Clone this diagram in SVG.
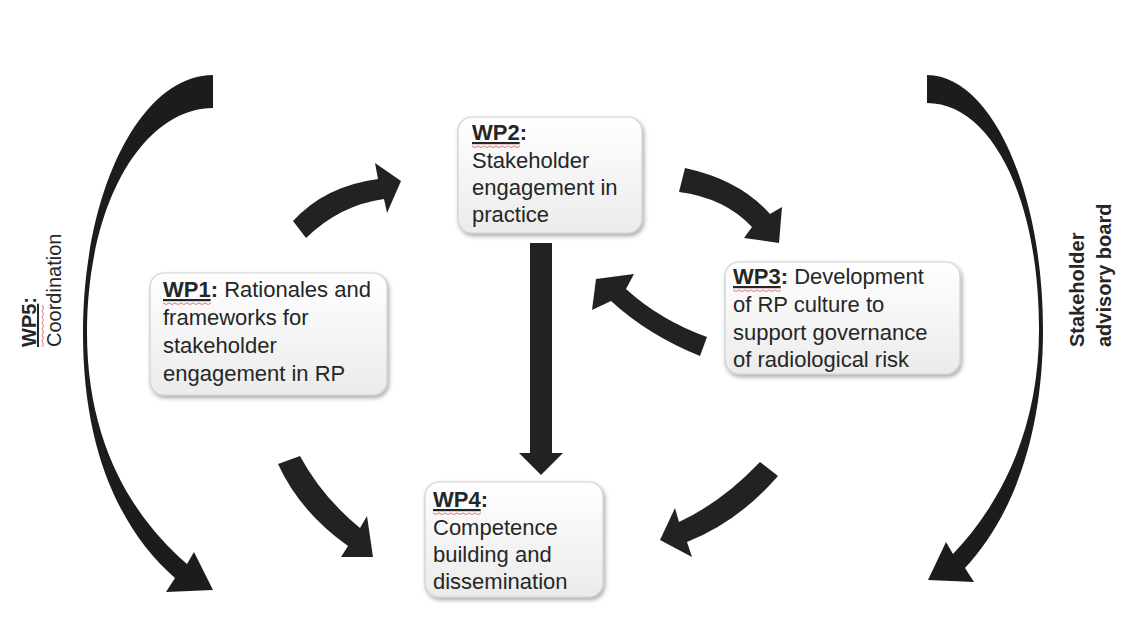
<svg xmlns="http://www.w3.org/2000/svg" width="1135" height="619" viewBox="0 0 1135 619">
<style>
  .t { font-family: "Liberation Sans", Arial, sans-serif; font-size: 22px; fill: #262626; }
  .side { font-family: "Liberation Sans", Arial, sans-serif; font-size: 20px; fill: #262626; }
  .b { font-weight: bold; }
  .u { text-decoration: underline; }
  .box { fill: url(#boxGrad); stroke: #cfcfcf; stroke-width: 1.2; filter: url(#shadow); }
  .arr { fill: #222222; }
  .arc { fill: #1c1c1c; }
  .sq { fill: none; stroke: #e05555; stroke-width: 1; opacity: 0.8; }
</style>
<defs>
  <linearGradient id="boxGrad" x1="0" y1="0" x2="0" y2="1">
    <stop offset="0" stop-color="#ffffff"/>
    <stop offset="1" stop-color="#ebebeb"/>
  </linearGradient>
  <filter id="shadow" x="-10%" y="-10%" width="125%" height="130%">
    <feDropShadow dx="1.5" dy="2.5" stdDeviation="2" flood-color="#000" flood-opacity="0.35"/>
  </filter>
</defs>
<rect width="1135" height="619" fill="#ffffff"/>

<g id="connectors">
  <!-- WP5 coordination arc (left) -->
  <path class="arc" d="M213,75 C141,75 83,190 83,333 C83,450 120,530 175,578 L166,592 L213,590 L194,552 L187,564 C130,515 87,440 87,333 C87,200 145,108 213,108 Z"/>
  <!-- Stakeholder advisory board arc (right) -->
  <path class="arc" d="M927,75 C991,75 1043,190 1043,330 C1043,440 1010,520 965,568 L974,582 L928,580 L946,542 L953,554 C1000,505 1039,430 1039,330 C1039,195 990,103 927,103 Z"/>
  <!-- WP1 -> WP2 -->
  <path class="arr" d="M293,221 Q325,186 378,179 L375,163 L401,181 L387,213 L384,199 Q340,205 306,238 Z"/>
  <!-- WP2 -> WP3 -->
  <path class="arr" d="M685,168 Q740,180 770,214 L782,207 L779,243 L744,238 L752,227 Q725,198 679,192 Z"/>
  <!-- WP3 -> WP2 -->
  <path class="arr" d="M707,337 Q660,320 626,289 L634,274 L596,279 L592,310 L611,301 Q648,335 700,356 Z"/>
  <!-- WP2 -> WP4 -->
  <path class="arr" d="M530,243 H552 V453 H563 L541,475 L519,453 H530 Z"/>
  <!-- WP1 -> WP4 -->
  <path class="arr" d="M300,456 Q322,497 360,528 L367,516 L373,557 L341,557 L348,546 Q300,512 278,464 Z"/>
  <!-- WP3 -> WP4 -->
  <path class="arr" d="M760,462 Q722,502 679,522 L675,508 L660,540 L692,557 L687,542 Q738,522 778,476 Z"/>
</g>

<g id="wp1">
  <rect class="box" x="150" y="273" width="237" height="122" rx="14"/>
  <text class="t" x="163" y="297"><tspan class="b u">WP1</tspan><tspan class="b">:</tspan> Rationales and</text>
  <text class="t" x="163" y="325">frameworks for</text>
  <text class="t" x="163" y="353">stakeholder</text>
  <text class="t" x="163" y="381">engagement in RP</text>
  <path class="sq" d="M163,303 l3,1.5 l3,-1.5 l3,1.5 l3,-1.5 l3,1.5 l3,-1.5 l3,1.5 l3,-1.5 l3,1.5 l3,-1.5 l3,1.5 l3,-1.5 l3,1.5 l3,-1.5 l3,1.5 l3,-1.5"/>
</g>

<g id="wp2">
  <rect class="box" x="458" y="117" width="184" height="116" rx="14"/>
  <text class="t" x="472" y="140"><tspan class="b u">WP2</tspan><tspan class="b">:</tspan></text>
  <text class="t" x="472" y="168">Stakeholder</text>
  <text class="t" x="472" y="195">engagement in</text>
  <text class="t" x="472" y="222">practice</text>
  <path class="sq" d="M472,146 l3,1.5 l3,-1.5 l3,1.5 l3,-1.5 l3,1.5 l3,-1.5 l3,1.5 l3,-1.5 l3,1.5 l3,-1.5 l3,1.5 l3,-1.5 l3,1.5 l3,-1.5 l3,1.5 l3,-1.5"/>
</g>

<g id="wp3">
  <rect class="box" x="725" y="262" width="235" height="112" rx="14"/>
  <text class="t" x="733" y="284"><tspan class="b u">WP3</tspan><tspan class="b">:</tspan> Development</text>
  <text class="t" x="733" y="312">of RP culture to</text>
  <text class="t" x="733" y="340">support governance</text>
  <text class="t" x="733" y="367">of radiological risk</text>
  <path class="sq" d="M733,290 l3,1.5 l3,-1.5 l3,1.5 l3,-1.5 l3,1.5 l3,-1.5 l3,1.5 l3,-1.5 l3,1.5 l3,-1.5 l3,1.5 l3,-1.5 l3,1.5 l3,-1.5 l3,1.5 l3,-1.5"/>
</g>

<g id="wp4">
  <rect class="box" x="425" y="482" width="178" height="115" rx="14"/>
  <text class="t" x="433" y="507"><tspan class="b u">WP4</tspan><tspan class="b">:</tspan></text>
  <text class="t" x="433" y="535">Competence</text>
  <text class="t" x="433" y="562">building and</text>
  <text class="t" x="433" y="589">dissemination</text>
  <path class="sq" d="M433,513 l3,1.5 l3,-1.5 l3,1.5 l3,-1.5 l3,1.5 l3,-1.5 l3,1.5 l3,-1.5 l3,1.5 l3,-1.5 l3,1.5 l3,-1.5 l3,1.5 l3,-1.5 l3,1.5 l3,-1.5"/>
</g>

<g id="wp5">
  <g transform="translate(36,347) rotate(-90)">
    <text class="side"><tspan class="b u">WP5</tspan><tspan class="b">:</tspan></text>
    <path class="sq" d="M0,6 l3,1.5 l3,-1.5 l3,1.5 l3,-1.5 l3,1.5 l3,-1.5 l3,1.5 l3,-1.5 l3,1.5 l3,-1.5 l3,1.5 l3,-1.5 l3,1.5 l3,-1.5"/>
  </g>
  <text class="side" transform="translate(61,347) rotate(-90)">Coordination</text>
</g>

<g id="advisory-board">
  <text class="side b" transform="translate(1084,347) rotate(-90)" font-size="19.5">Stakeholder</text>
  <text class="side b" transform="translate(1111,347) rotate(-90)" font-size="19.5">advisory board</text>
</g>
</svg>
